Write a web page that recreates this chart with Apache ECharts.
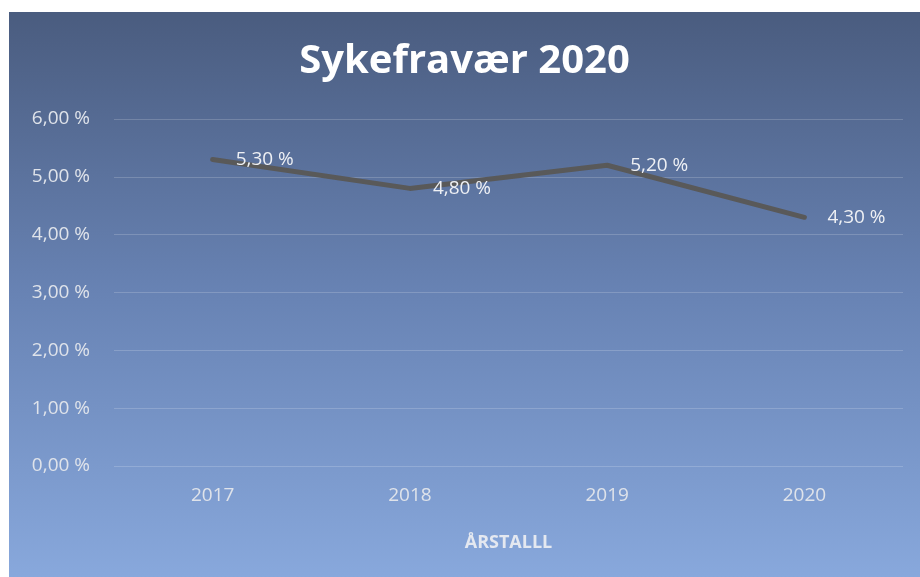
<!DOCTYPE html>
<html>
<head>
<meta charset="utf-8">
<script src="https://cdn.jsdelivr.net/npm/echarts@6/dist/echarts.min.js"></script>
<style>
html,body{margin:0;padding:0;background:#ffffff;width:920px;height:577px;overflow:hidden;}
#c{position:absolute;left:9px;top:12px;width:911px;height:565px;}
</style>
</head>
<body>
<div id="c"></div>
<script>
const titleText = 'Sykefravær 2020';
const axisName = 'ÅRSTALLL';
const categories = ['2017', '2018', '2019', '2020'];
const values = [5.3, 4.8, 5.2, 4.3];
const yTicks = [0, 1, 2, 3, 4, 5, 6];

function pct(v) { return v.toFixed(2).replace('.', ',') + ' %'; }

const chart = echarts.init(document.getElementById('c'));
chart.setOption({
  backgroundColor: {
    type: 'linear', x: 0, y: 0, x2: 0, y2: 1,
    colorStops: [
      { offset: 0, color: '#4a5c7f' },
      { offset: 0.5, color: '#6883b4' },
      { offset: 1, color: '#88a8dc' }
    ]
  },
  title: {
    text: titleText,
    left: 'center',
    top: 25,
    textStyle: { color: '#ffffff', fontSize: 40, fontWeight: 'bold', fontFamily: 'Open Sans' }
  },
  grid: { left: 105, right: 17, top: 107, bottom: 111 },
  xAxis: {
    type: 'category',
    data: categories,
    boundaryGap: true,
    name: axisName,
    nameLocation: 'middle',
    nameGap: 68,
    nameTextStyle: { color: '#e4e8f0', fontSize: 18, fontWeight: 'bold', fontFamily: 'Open Sans' },
    axisLine: { show: false },
    axisTick: { show: false },
    axisLabel: { color: '#dfe3ea', fontSize: 19, fontFamily: 'Open Sans', margin: 20 }
  },
  yAxis: {
    type: 'value',
    min: yTicks[0],
    max: yTicks[yTicks.length - 1],
    interval: 1,
    axisLine: { show: false },
    axisTick: { show: false },
    splitLine: { lineStyle: { color: 'rgba(255,255,255,0.18)', width: 1 } },
    axisLabel: { color: '#dfe3ea', fontSize: 19, fontFamily: 'Open Sans', margin: 24, formatter: pct }
  },
  series: [{
    type: 'line',
    data: values,
    symbol: 'circle',
    symbolSize: 2,
    showSymbol: true,
    itemStyle: { color: '#595959' },
    lineStyle: { color: '#595959', width: 5, cap: 'round', join: 'round' },
    label: {
      show: true,
      position: 'right',
      distance: 22,
      color: '#eef0f4',
      fontSize: 19,
      fontFamily: 'Open Sans',
      formatter: p => pct(p.value)
    },
    animation: false
  }],
  animation: false
});
</script>
</body>
</html>
